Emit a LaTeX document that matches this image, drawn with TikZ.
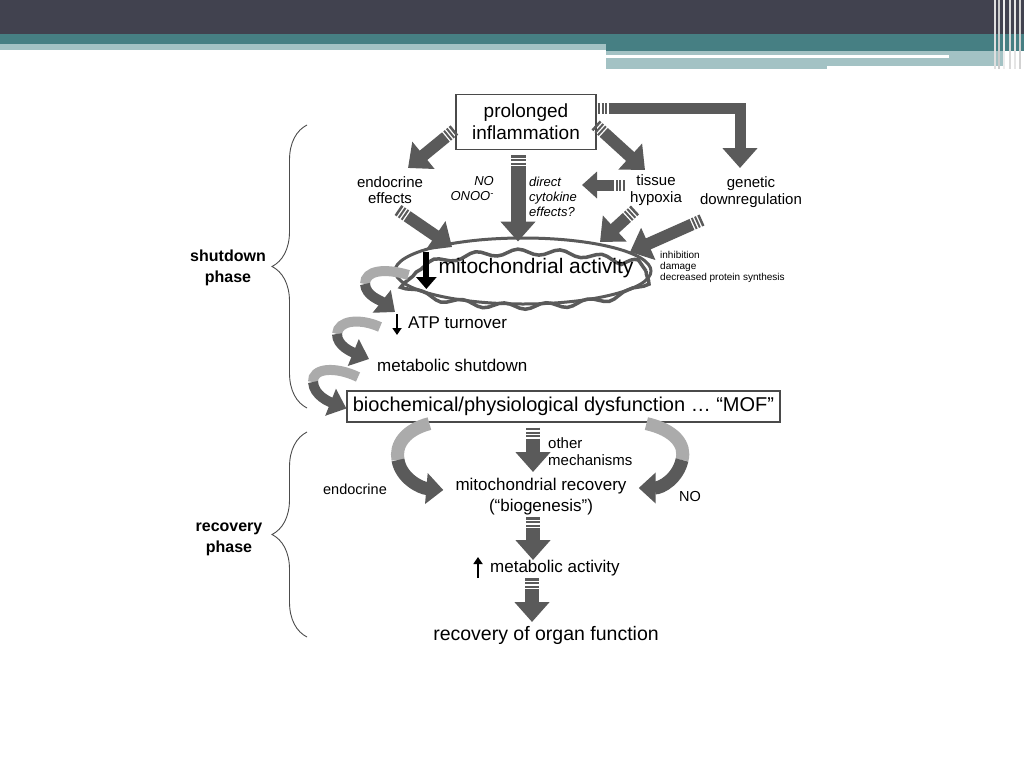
\documentclass[tikz,border=0pt]{standalone}
\usepackage{fontspec}
\setmainfont{Liberation Sans}
\usetikzlibrary{arrows.meta, calc, positioning, shapes.geometric, decorations.pathmorphing, decorations.pathreplacing}

\definecolor{hdrdark}{HTML}{41424F}
\definecolor{hdrteal}{HTML}{467F83}
\definecolor{hdrlight}{HTML}{A3C2C4}
\definecolor{arrdark}{HTML}{5A5A5A}
\definecolor{arrlight}{HTML}{ABABAB}
\definecolor{boxline}{HTML}{4A4A4A}

\begin{document}
\begin{tikzpicture}[
        x=1pt, y=-1pt,
        >=Stealth,
        box/.style={draw=boxline, line width=1.2pt, fill=white, inner sep=0pt, align=center},
        lbl/.style={inner sep=0pt, align=center, font={\fontsize{15}{16.5}\selectfont}},
        note/.style={inner sep=0pt, align=left, font={\itshape\fontsize{13}{15}\selectfont}},
        fat/.style={draw=arrdark, line width=12pt, -{Triangle[length=20pt, width=34pt]},
            dash pattern=on 2.5pt off 1.5pt on 2pt off 1.5pt on 2pt off 1.5pt on 2000pt},
        rib/.style={line width=10pt},
        ribtip/.style={draw=arrdark, line width=10pt, -{Triangle[length=17pt, width=28pt]}},
        updown/.style={draw=black, line width=2.5pt, -{Triangle[length=7pt, width=9pt]}},
        phase/.style={inner sep=0pt, align=center, font={\bfseries\fontsize{16}{21}\selectfont}},
        bracket/.style={draw=black!70, line width=0.9pt, decorate, decoration={brace, amplitude=35pt}}
    ]
    \useasboundingbox (0,0) rectangle (1024,768);
    \fill[white] (0,0) rectangle (1024,768);

    % slide header
    \fill[hdrdark] (0,0) rectangle (1024,34);
    \fill[hdrteal] (0,34) rectangle (1024,44);
    \fill[hdrlight] (0,44) rectangle (606,50);
    \fill[hdrteal] (606,44) rectangle (1024,51);
    \fill[hdrlight] (606,51) rectangle (1005,66);
    \fill[hdrlight] (606,66) rectangle (827,69);
    \fill[white] (606,55) rectangle (949,58);
    \foreach \x/\c in {995/white!75!gray, 999/white!60!gray, 1004/white!85!gray, 1010/white!70!gray, 1015/white!80!gray, 1020/white!65!gray}
        \draw[\c, line width=1.2pt] (\x,0) -- (\x,69);

    % shutdown part
    \node[ellipse, draw=arrdark, line width=3pt, minimum width=256pt, minimum height=66pt, inner sep=0pt] (mito) at (523,271) {};
    \draw[arrdark, line width=3.5pt, decorate, decoration={snake, segment length=42pt, amplitude=3pt}]
        (mito.center) ellipse [x radius=123, y radius=28];

    \node[box, minimum width=140pt, minimum height=55pt, font={\fontsize{19}{22}\selectfont}] (infl) at (526,122) {prolonged\\inflammation};
    \node[lbl] (endo) at (390,190) {endocrine\\effects};
    \node[note, align=right, anchor=east] (no) at (494,189) {NO\\ONOO\textsuperscript{-}};
    \node[note, anchor=west] (cyto) at (529,197) {direct\\cytokine\\effects?};
    \node[lbl] (hyp) at (656,190) {tissue\\hypoxia};
    \node[lbl] (gen) at (751,192) {genetic\\downregulation};

    \node[inner sep=0pt, font={\fontsize{21}{24}\selectfont}] (mitotxt) at (536,268) {mitochondrial activity};
    \node[inner sep=0pt, anchor=west, align=left, font={\fontsize{10}{11}\selectfont}] (inh) at (660,267) {inhibition\\damage\\decreased protein synthesis};
    \node[inner sep=0pt, anchor=west, font={\fontsize{17}{19}\selectfont}] (atp) at (408,323) {ATP turnover};
    \node[inner sep=0pt, anchor=west, font={\fontsize{17}{19}\selectfont}] (msd) at (377,365) {metabolic shutdown};
    \node[box, minimum width=433pt, minimum height=31pt, font={\fontsize{20}{22}\selectfont}] (mof) at (563.5,406.5) {biochemical/physiological dysfunction … “MOF”};

    \draw[fat] ($(infl.west)+(-1,8)$) -- ($(endo)+(18,-22)$);
    \draw[fat, line width=15pt] ($(infl.south)+(-8,5)$) -- ($(mito.north)+(-5,5)$);
    \draw[fat] ($(infl.east)+(-1,3)$) -- ($(hyp)+(-11,-20)$);
    \draw[fat, line width=11pt] ($(infl.east)+(1,-14)$) -| ($(gen)+(-11,-24)$);
    \draw[fat, line width=11pt, -{Triangle[length=15pt, width=26pt]}] ($(hyp)+(-31,-5)$) -- ($(cyto.west)+(53,-12)$);
    \draw[fat] ($(endo)+(8,20)$) -- ($(mito)+(-71,-24)$);
    \draw[fat] ($(hyp)+(-21,20)$) -- ($(mito)+(77,-29)$);
    \draw[fat] ($(gen)+(-49,28)$) -- ($(mito)+(107,-19)$);

    \draw[draw=black, line width=6pt, -{Triangle[length=12pt, width=20pt]}] ($(mitotxt.west)+(-12,-16)$) -- ($(mitotxt.west)+(-12,21)$);
    \draw[updown] ($(atp.west)+(-11,-9)$) -- ($(atp.west)+(-11,12)$);

    % ribbons down the left side
    \draw[rib, arrlight] ($(mito.west)+(15,4)$) .. controls (385,268) and (365,270) .. (365,284);
    \draw[ribtip] (365,284) .. controls (366,296) and (380,300) .. ($(atp.west)+(-13,-11)$);
    \draw[rib, arrlight] ($(atp.west)+(-28,4)$) .. controls (360,318) and (338,320) .. (337,334);
    \draw[ribtip] (337,334) .. controls (337,346) and (352,352) .. ($(msd.west)+(-8,-6)$);
    \draw[rib, arrlight] ($(msd.west)+(-19,12)$) .. controls (335,366) and (312,368) .. (313,382);
    \draw[ribtip] (313,382) .. controls (314,396) and (330,402) .. ($(mof.west)+(0,2)$);

    % recovery part
    \node[lbl, font={\fontsize{17}{21}\selectfont}] (mrec) at (541,497) {mitochondrial recovery\\(“biogenesis”)};
    \node[lbl, anchor=west, align=left, font={\fontsize{15}{17}\selectfont}] (other) at (548,452) {other\\mechanisms};
    \node[lbl, font={\fontsize{14.5}{16}\selectfont}] (endo2) at (355,489) {endocrine};
    \node[lbl, font={\fontsize{14.5}{16}\selectfont}] (nitric) at (690,497) {NO};
    \node[inner sep=0pt, anchor=west, font={\fontsize{17}{19}\selectfont}] (metab) at (490,568) {metabolic activity};
    \node[inner sep=0pt, font={\fontsize{19.5}{22}\selectfont}] (organ) at (546,635) {recovery of organ function};

    \draw[rib, arrlight, line width=13pt] ($(mof.south west)+(83,1)$) .. controls (405,430) and (395,445) .. (398,460);
    \draw[ribtip, line width=13pt, -{Triangle[length=17pt, width=30pt]}] (398,460) .. controls (401,478) and (420,488) .. ($(mrec.west)+(-12,-7)$);
    \draw[rib, arrlight, line width=13pt] ($(mof.south west)+(300,1)$) .. controls (675,430) and (686,445) .. (682,460);
    \draw[ribtip, line width=13pt, -{Triangle[length=17pt, width=30pt]}] (682,460) .. controls (678,478) and (662,488) .. ($(mrec.east)+(12,-9)$);

    \draw[fat, line width=14pt] ($(mof.south)+(-30.5,5)$) -- ($(mrec)+(-8,-25)$);
    \draw[fat, line width=14pt] ($(mrec)+(-8,20)$) -- ($(metab.west)+(43,-8)$);
    \draw[fat, line width=14pt] ($(metab.west)+(42,10)$) -- ($(organ)+(-14,-13)$);
    \draw[updown] ($(metab.west)+(-12,10)$) -- ($(metab.west)+(-12,-11)$);

    % phases
    \draw[bracket] (307,408) -- (307,125);
    \draw[bracket] (307,637) -- (307,432);
    \node[phase] (shutph) at (228,268) {shutdown\\phase};
    \node[phase] (recph) at (229,539) {recovery\\phase};
\end{tikzpicture}
\end{document}
